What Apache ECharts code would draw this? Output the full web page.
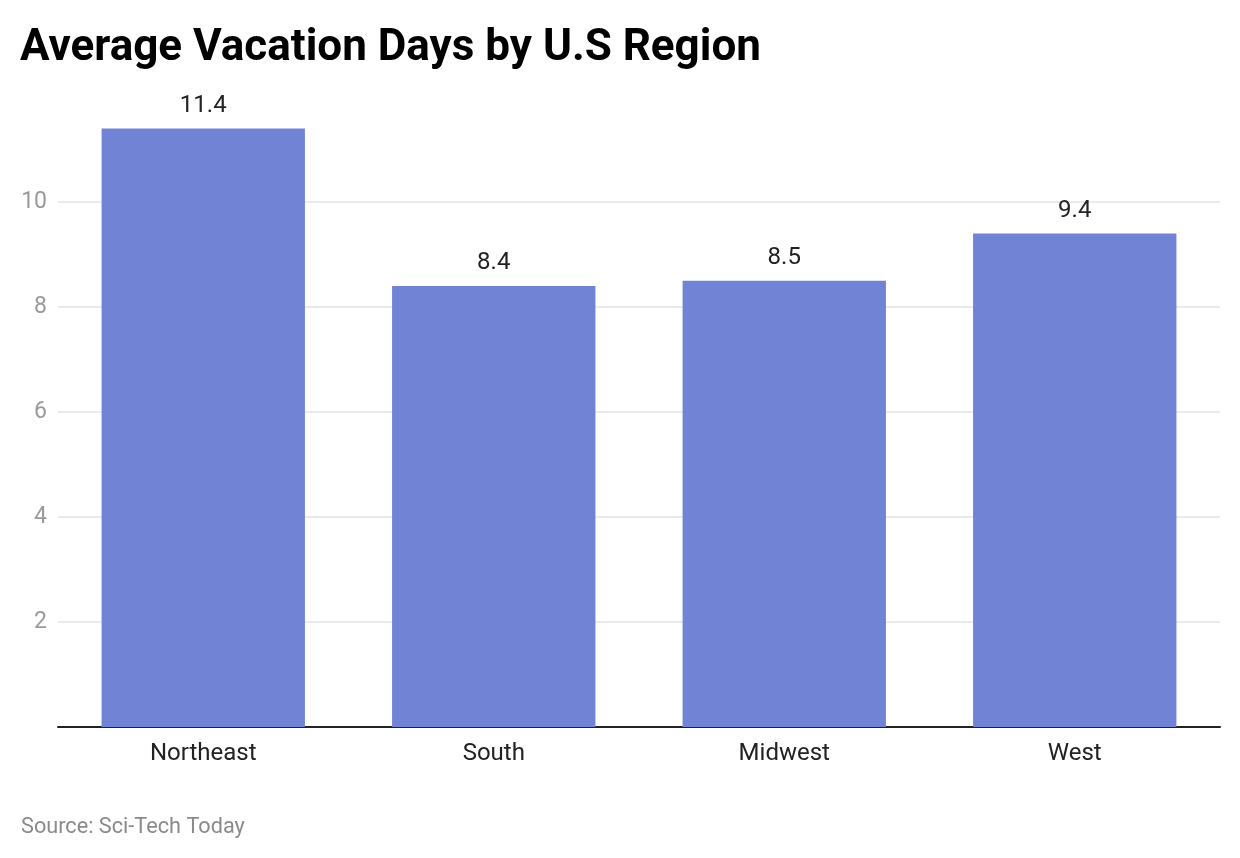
<!DOCTYPE html>
<html>
<head>
<meta charset="utf-8">
<script src="https://cdn.jsdelivr.net/npm/echarts@6/dist/echarts.min.js"></script>
<style>
html,body{margin:0;padding:0;background:#fff;}
#c{width:1240px;height:858px;}
</style>
</head>
<body>
<div id="c"></div>
<script>
var categories = ['Northeast', 'South', 'Midwest', 'West'];
var vacationDays = [11.4, 8.4, 8.5, 9.4];
var titleText = 'Average Vacation Days by U.S Region';
var sourceText = 'Source: Sci-Tech Today';

var chart = echarts.init(document.getElementById('c'), null, {renderer: 'canvas'});
chart.setOption({
  backgroundColor: '#ffffff',
  animation: false,
  title: [{
    text: titleText,
    left: 15, top: 22,
    textStyle: {fontFamily: 'Roboto', fontWeight: 'bold', fontSize: 44, color: '#000'}
  }, {
    text: sourceText,
    left: 16, top: 812,
    textStyle: {fontFamily: 'Roboto', fontWeight: 'normal', fontSize: 21.7, color: '#8a8a8a'}
  }],
  grid: {left: 58, right: 20, top: 97, bottom: 131, containLabel: false},
  xAxis: {
    type: 'category',
    data: categories,
    axisLine: {show: true, lineStyle: {color: '#222', width: 2}},
    axisTick: {show: false},
    axisLabel: {fontFamily: 'Roboto', fontSize: 24, color: '#222', margin: 15}
  },
  yAxis: {
    type: 'value',
    min: 0, max: 12, interval: 2,
    axisLine: {show: false},
    axisTick: {show: false},
    axisLabel: {fontFamily: 'Roboto', fontSize: 23, color: '#9a9a9a', margin: 11,
      showMinLabel: false, showMaxLabel: false},
    splitLine: {show: true, showMinLine: false, showMaxLine: false, lineStyle: {color: '#e3e3e3', width: 1.5}}
  },
  series: [{
    type: 'bar',
    data: vacationDays,
    barWidth: '70%',
    itemStyle: {color: '#7083d4'},
    label: {show: true, position: 'top', distance: 11, fontFamily: 'Roboto', fontSize: 24, color: '#222'}
  }]
});
</script>
</body>
</html>
